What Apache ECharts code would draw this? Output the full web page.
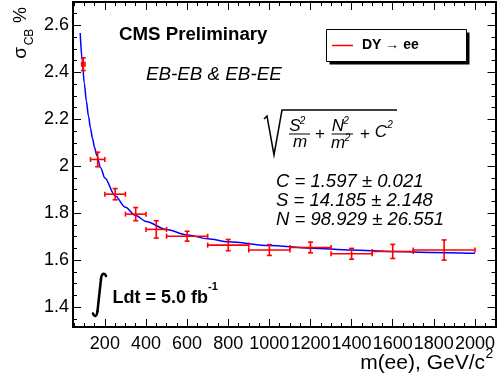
<!DOCTYPE html>
<html>
<head>
<meta charset="UTF-8">
<title>sigma_CB vs m(ee)</title>
<script src="https://cdn.jsdelivr.net/npm/echarts@6/dist/echarts.min.js"></script>
<style>
  html, body { margin: 0; padding: 0; background: #fff; }
  #main { width: 498px; height: 385px; }
</style>
</head>
<body>
<div id="main"></div>
<script type="text/javascript">
// measured points: bin centre, bin edges, value, error
var massCenter = [95, 165, 250, 350, 450, 600, 800, 1000, 1200, 1400, 1600, 1850];
var massLow = [87, 130, 200, 300, 400, 500, 700, 900, 1100, 1300, 1500, 1700];
var massHigh = [103, 200, 300, 400, 500, 700, 900, 1100, 1300, 1500, 1700, 2000];
var sigmaCB = [2.435, 2.029, 1.881, 1.796, 1.731, 1.702, 1.664, 1.643, 1.654, 1.627, 1.637, 1.643];
var sigmaErr = [0.027, 0.031, 0.024, 0.028, 0.037, 0.021, 0.024, 0.023, 0.023, 0.023, 0.030, 0.043];

// fit curve
var fitMass = [80, 90, 100, 110, 120, 130, 140, 150, 160, 180, 200, 250, 300, 350, 400, 500, 600, 700, 800, 1000, 1200, 1400, 1600, 1800, 2000];
var fitSigma = [2.568, 2.448, 2.354, 2.278, 2.215, 2.163, 2.118, 2.080, 2.047, 1.993, 1.950, 1.874, 1.825, 1.790, 1.765, 1.730, 1.707, 1.691, 1.678, 1.662, 1.651, 1.643, 1.637, 1.633, 1.629];

// ticks
var xTicks = [200, 400, 600, 800, 1000, 1200, 1400, 1600, 1800, 2000];
var xMinor = [50, 100, 150, 250, 300, 350, 450, 500, 550, 650, 700, 750, 850, 900, 950, 1050, 1100, 1150,
              1250, 1300, 1350, 1450, 1500, 1550, 1650, 1700, 1750, 1850, 1900, 1950, 2050];
var yTicks = [1.4, 1.6, 1.8, 2, 2.2, 2.4, 2.6];
var yMinor = [1.35, 1.45, 1.5, 1.55, 1.65, 1.7, 1.75, 1.85, 1.9, 1.95, 2.05, 2.1, 2.15, 2.25, 2.3, 2.35, 2.45, 2.5, 2.55, 2.65];

var X_MIN = 45, X_MAX = 2100, Y_MIN = 1.315, Y_MAX = 2.7;
var FONT = '"Liberation Sans", Arial, Helvetica, sans-serif';

function plain(v) { return String(Math.round(v * 100) / 100); }

function xAx(pos, ticks, len, labels) {
    return {
        type: 'value', position: pos, min: X_MIN, max: X_MAX,
        axisLine: { show: true, onZero: false, lineStyle: { color: '#000', width: 2 } },
        axisTick: { show: true, inside: true, length: len, customValues: ticks, lineStyle: { color: '#000', width: 1 } },
        axisLabel: labels ? { show: true, customValues: ticks, formatter: plain, hideOverlap: false, showMaxLabel: true,
                              color: '#000', fontSize: 18, fontFamily: FONT, margin: 8 } : { show: false },
        splitLine: { show: false }
    };
}
function yAx(pos, ticks, len, labels) {
    return {
        type: 'value', position: pos, min: Y_MIN, max: Y_MAX,
        axisLine: { show: true, onZero: false, lineStyle: { color: '#000', width: 2 } },
        axisTick: { show: true, inside: true, length: len, customValues: ticks, lineStyle: { color: '#000', width: 1 } },
        axisLabel: labels ? { show: true, customValues: ticks, formatter: plain, hideOverlap: false,
                              color: '#000', fontSize: 18, fontFamily: FONT, margin: 4 } : { show: false },
        splitLine: { show: false }
    };
}

var points = [];
for (var i = 0; i < massCenter.length; i++) {
    points.push([massCenter[i], sigmaCB[i], massLow[i], massHigh[i], sigmaErr[i]]);
}
var fit = [];
for (var j = 0; j < fitMass.length; j++) {
    fit.push([fitMass[j], fitSigma[j]]);
}

function txt(x, y, s, font, align, rot) {
    return {
        type: 'text', x: x, y: y, rotation: rot || 0, z: 10,
        style: { text: s, x: 0, y: 0, fill: '#000', font: font, textAlign: align || 'left', textVerticalAlign: 'middle' }
    };
}

var myChart = echarts.init(document.getElementById('main'));

var option = {
    animation: false,
    grid: { left: 73, right: 2, top: 2, bottom: 58, containLabel: false },
    xAxis: [xAx('bottom', xTicks, 8, true), xAx('bottom', xMinor, 4, false),
            xAx('top', xTicks, 8, false), xAx('top', xMinor, 4, false)],
    yAxis: [yAx('left', yTicks, 8, true), yAx('left', yMinor, 4, false),
            yAx('right', yTicks, 8, false), yAx('right', yMinor, 4, false)],
    series: [{
        name: 'fit',
        type: 'line',
        data: fit,
        smooth: 0.3,
        smoothMonotone: 'x',
        showSymbol: false,
        lineStyle: { color: '#0000ff', width: 1.5 },
        z: 3
    }, {
        name: 'DY → ee',
        type: 'custom',
        data: points,
        encode: { x: [0, 2, 3], y: 1 },
        z: 4,
        renderItem: function (params, api) {
            var x = api.value(0), y = api.value(1), e = api.value(4);
            var l = api.coord([api.value(2), y]);
            var h = api.coord([api.value(3), y]);
            var lo = api.coord([x, y - e]);
            var hi = api.coord([x, y + e]);
            var st = { stroke: '#ff0000', lineWidth: 1.6 };
            var c = 2.5;
            function ln(a, b, cc, d) {
                return { type: 'line', shape: { x1: a, y1: b, x2: cc, y2: d }, style: st };
            }
            return {
                type: 'group',
                children: [
                    ln(l[0], l[1], h[0], h[1]),
                    ln(l[0], l[1] - c, l[0], l[1] + c),
                    ln(h[0], h[1] - c, h[0], h[1] + c),
                    ln(lo[0], lo[1], hi[0], hi[1]),
                    ln(lo[0] - c, lo[1], lo[0] + c, lo[1]),
                    ln(hi[0] - c, hi[1], hi[0] + c, hi[1])
                ]
            };
        }
    }],
    graphic: [
        // y title
        txt(21, 53, 'σ', '19px ' + FONT, 'center', Math.PI / 2),
        txt(30, 37, 'CB', '12px ' + FONT, 'center', Math.PI / 2),
        txt(21, 15, '%', '18px ' + FONT, 'center', Math.PI / 2),
        // x title
        txt(485, 363, 'm(ee), GeV/c', '21px ' + FONT, 'right'),
        txt(485.5, 354, '2', '14px ' + FONT, 'left'),
        // labels
        txt(119, 35, 'CMS Preliminary', 'bold 18.7px ' + FONT, 'left'),
        txt(146, 75, 'EB-EB & EB-EE', 'italic 18.8px ' + FONT, 'left'),
        // legend
        { type: 'rect', shape: { x: 329.5, y: 32.5, width: 140, height: 32 }, style: { fill: '#000' }, z: 8 },
        { type: 'rect', shape: { x: 326.5, y: 29.5, width: 140, height: 32 }, style: { fill: '#fff', stroke: '#000', lineWidth: 1 }, z: 9 },
        { type: 'line', shape: { x1: 332, y1: 45.5, x2: 353, y2: 45.5 }, style: { stroke: '#ff0000', lineWidth: 1.5 }, z: 10 },
        txt(362, 45.5, 'DY → ee', 'bold 14px ' + FONT, 'left'),
        // resolution formula
        { type: 'polyline', shape: { points: [[264, 119], [267, 116], [274, 155], [282, 110], [397, 110]] },
          style: { stroke: '#000', fill: null, lineWidth: 1.5 }, z: 10 },
        txt(295, 126, 'S', 'italic 17px ' + FONT, 'center'),
        txt(302.5, 121, '2', 'italic 10px ' + FONT, 'center'),
        { type: 'line', shape: { x1: 289, y1: 134, x2: 310, y2: 134 }, style: { stroke: '#000', lineWidth: 1 }, z: 10 },
        txt(300, 142.5, 'm', 'italic 17px ' + FONT, 'center'),
        txt(320, 134, '+', '17px ' + FONT, 'center'),
        txt(338, 126, 'N', 'italic 17px ' + FONT, 'center'),
        txt(346, 121, '2', 'italic 10px ' + FONT, 'center'),
        { type: 'line', shape: { x1: 331.5, y1: 134, x2: 353, y2: 134 }, style: { stroke: '#000', lineWidth: 1 }, z: 10 },
        txt(338, 143, 'm', 'italic 17px ' + FONT, 'center'),
        txt(347.5, 138, '2', 'italic 10px ' + FONT, 'center'),
        txt(365, 134, '+', '17px ' + FONT, 'center'),
        txt(381, 132, 'C', 'italic 17px ' + FONT, 'center'),
        txt(390, 125, '2', 'italic 10px ' + FONT, 'center'),
        // fit parameters
        txt(276, 182, 'C = 1.597 ± 0.021', 'italic 18.5px ' + FONT, 'left'),
        txt(276, 201, 'S = 14.185 ± 2.148', 'italic 18.5px ' + FONT, 'left'),
        txt(276, 220, 'N = 98.929 ± 26.551', 'italic 18.5px ' + FONT, 'left'),
        // luminosity: integral sign
        { type: 'bezierCurve', shape: { x1: 106, y1: 276, cpx1: 104.5, cpy1: 272, cpx2: 101.5, cpy2: 273.5, x2: 101, y2: 279 },
          style: { stroke: '#000', fill: null, lineWidth: 2.5, lineCap: 'round' }, z: 10 },
        { type: 'line', shape: { x1: 101, y1: 279, x2: 97.5, y2: 311 },
          style: { stroke: '#000', lineWidth: 2.5, lineCap: 'round' }, z: 10 },
        { type: 'bezierCurve', shape: { x1: 97.5, y1: 311, cpx1: 97, cpy1: 316.5, cpx2: 94.5, cpy2: 317.5, x2: 93, y2: 313.5 },
          style: { stroke: '#000', fill: null, lineWidth: 2.5, lineCap: 'round' }, z: 10 },
        txt(112.5, 298.5, 'Ldt = 5.0 fb', 'bold 18px ' + FONT, 'left'),
        txt(208, 287, '-1', 'bold 11px ' + FONT, 'left')
    ]
};
myChart.setOption(option);
</script>
</body>
</html>
